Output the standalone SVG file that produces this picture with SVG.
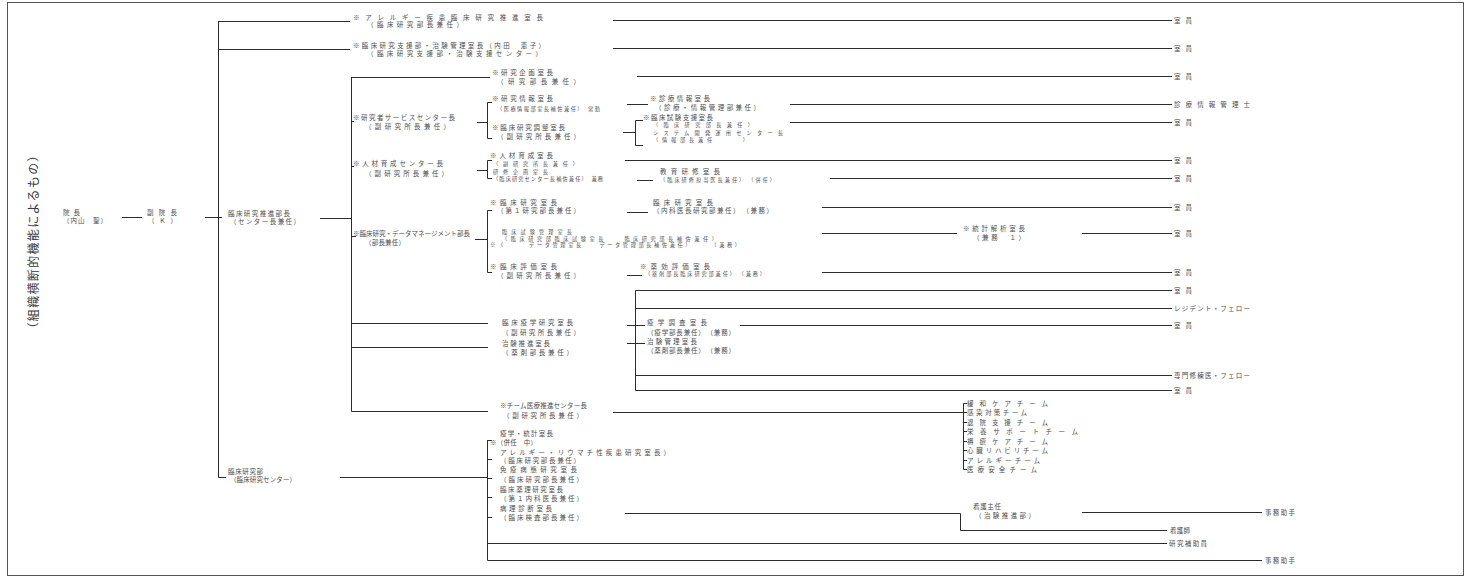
<svg xmlns="http://www.w3.org/2000/svg" width="1470" height="578" viewBox="0 0 1470 578">
<style>
text{font-family:"Noto Sans CJK JP","Noto Sans",sans-serif;font-size:6.5px;fill:#4d4d4d}
.s{font-size:5.2px}
.ttl{font-size:12px;fill:#3a3a3a}
.c path{fill:none;stroke:#2b2b2b;stroke-width:1}
.frame{fill:none;stroke:#555;stroke-width:1}
</style>
<rect class="frame" x="7.5" y="2.5" width="1456" height="573"/>
<text class="ttl" transform="translate(38,242) rotate(-90)" text-anchor="middle" textLength="185" lengthAdjust="spacing">（組織横断的機能によるもの）</text>

<g class="c" id="connectors">
<path d="M122 217.5H142M205 217.5H222M218.5 21V477.5H226M218 21.5H350M218 49.5H350M320 218.5H351M351.5 77V411.5H488M340 477.5H487"/>
<path d="M613 20.5H1172M613 48.5H1172M351 77.5H490M637 76.5H1172"/>
<path d="M351 121.5H354M477 122.5H487M492 102.5H487.5V138.5H492"/>
<path d="M627 104.5H648M790 104.5H1172M623 132.5H635M643 120.5H635.5V145.5H643M790 122.5H1172"/>
<path d="M351 166.5H354M477 170.5H487M492 160.5H487.5V178.5H492M625 160.5H1172M637 180.5H653M830 178.5H1172"/>
<path d="M492 210.5H487.5V272.5H492M351 236.5H356M475 239.5H487M627 212.5H648M822 207.5H1172M822 233.5H957M1082 233.5H1172M627 275.5H642M822 272.5H1172"/>
<path d="M351 323.5H488M351 347.5H488M1172 290.5H635.5V390.5H1172M635 308.5H1172M635 375.5H1172M627 325.5H645M627 343.5H645M740 325.5H1172"/>
<path d="M613 412.5H963M967 403.5H963.5V469.5H967M963 412.5H967M963 422.5H967M963 431.5H967M963 441.5H967M963 450.5H967M963 460.5H967"/>
<path d="M487.5 440V560.5H1262M487 440.5H492M487 459.5H492M487 478.5H492M487 497.5H492M487 517.5H492M625 513.5H960.5V530.5H1167M1082 512.5H1262M487 543.5H1167"/>
</g>

<g id="n-in"><text x="63" y="215" textLength="17">院長</text><text x="63" y="222.5" textLength="44">（内山　聖）</text></g>
<g id="n-fuku"><text x="147" y="215" textLength="30">副院長</text><text x="148" y="222.5" textLength="29">（Ｋ）</text></g>
<g id="n-main"><text x="228" y="215.5" textLength="62">臨床研究推進部長</text><text x="230" y="223.5" textLength="70">（センター長兼任）</text></g>
<g id="n-t1"><text x="353" y="19.5" textLength="190">※アレルギー疾患臨床研究推進室長</text><text x="367" y="27" textLength="96">（臨床研究部長兼任）</text></g>
<g id="n-t2"><text x="353" y="47.5" textLength="192">※臨床研究支援部・治験管理室長（内田　恵子）</text><text x="367" y="55.5" textLength="175">（臨床研究支援部・治験支援センター）</text></g>
<g id="n-r1"><text x="492" y="74.5" textLength="61">※研究企画室長</text><text x="497" y="83.5" textLength="83">（研究部長兼任）</text></g>
<g id="n-sc"><text x="353" y="119.5" textLength="102">※研究者サービスセンター長</text><text x="365" y="128.5" textLength="85">（副研究所長兼任）</text></g>
<g id="n-s1"><text x="492" y="100.5" textLength="61">※研究情報室長</text><text class="s" x="497" y="110.5" textLength="103">（医療情報部室長補佐兼任）　常勤</text></g>
<g id="n-s2"><text x="492" y="129.5" textLength="73">※臨床研究調整室長</text><text x="497" y="138.5" textLength="83">（副研究所長兼任）</text></g>
<g id="n-s1r"><text x="650" y="100.5" textLength="60">※診療情報室長</text><text x="655" y="110" textLength="105">（診療・情報管理部兼任）</text></g>
<g id="n-s2r"><text x="643" y="120" textLength="70">※臨床試験支援室長</text><text class="s" x="653" y="127" textLength="100">（臨床研究部長兼任）</text><text class="s" x="653" y="134.5" textLength="130">システム開発運用センター長</text><text class="s" x="653" y="142" textLength="95">（情報部長兼任　　　）</text></g>
<g id="n-hr"><text x="353" y="165.5" textLength="90">※人材育成センター長</text><text x="365" y="175.5" textLength="83">（副研究所長兼任）</text></g>
<g id="n-hra"><text x="490" y="157.5" textLength="63">※人材育成室長</text><text class="s" x="493" y="166" textLength="85">（副研究所長兼任）</text></g>
<g id="n-hrb"><text class="s" x="493" y="173.5" textLength="55">研修企画室長</text><text class="s" x="493" y="180.5" textLength="110">（臨床研究センター長補佐兼任）　兼務</text></g>
<g id="n-hrr"><text x="660" y="174" textLength="60">教育研修室長</text><text class="s" x="660" y="181.5" textLength="115">（臨床研修担当医長兼任）　（併任）</text></g>
<g id="n-ra"><text x="490" y="204.5" textLength="67">※臨床研究室長</text><text x="497" y="212.5" textLength="83">（第１研究部長兼任）</text></g>
<g id="n-rar"><text x="653" y="204.5" textLength="60">臨床研究室長</text><text x="653" y="212.5" textLength="120">（内科医長研究部兼任）　（兼務）</text></g>
<g id="n-mid"><text x="353" y="235.5" textLength="117">※臨床研究・データマネージメント部長</text><text x="365" y="244.5" textLength="40">（部長兼任）</text></g>
<g id="n-cx"><text class="s" x="502" y="234" textLength="70">臨床試験管理室長</text><text class="s" x="502" y="240.5" textLength="215">（臨床研究部臨床試験室長　　臨床研究部長補佐兼任）</text><text class="s" x="490" y="247" textLength="250">※（　　　データ管理室長　　データ管理部長補佐兼任）　　　（兼務）</text></g>
<g id="n-midr"><text x="963" y="230.5" textLength="62">※統計解析室長</text><text x="973" y="239.5" textLength="52">（兼務　１）</text></g>
<g id="n-rc"><text x="490" y="268.5" textLength="67">※臨床評価室長</text><text x="497" y="277.5" textLength="83">（副研究所長兼任）</text></g>
<g id="n-rcr"><text x="640" y="268.5" textLength="70">※薬効評価室長</text><text class="s" x="645" y="275.5" textLength="120">（薬剤部長臨床研究部兼任）　（兼務）</text></g>
<g id="n-l1"><text x="502" y="324.5" textLength="71">臨床疫学研究室長</text><text x="502" y="335" textLength="78">（副研究所長兼任）</text></g>
<g id="n-l2"><text x="502" y="345.5" textLength="48">治験推進室長</text><text x="502" y="354.5" textLength="71">（薬剤部長兼任）</text></g>
<g id="n-lr1"><text x="647" y="324.5" textLength="60">疫学調査室長</text><text x="647" y="334.5" textLength="88">（疫学部長兼任）　（兼務）</text></g>
<g id="n-lr2"><text x="647" y="343.5" textLength="50">治験管理室長</text><text x="647" y="352.5" textLength="88">（薬剤部長兼任）　（兼務）</text></g>
<g id="n-bv"><text x="500" y="407.5" textLength="87">※チーム医療推進センター長</text><text x="503" y="417.5" textLength="80">（副研究所長兼任）</text></g>
<g id="n-bn"><text x="228" y="474" textLength="35">臨床研究部</text><text x="230" y="482" textLength="66">（臨床研究センター）</text></g>
<g id="n-b1"><text x="500" y="435.5" textLength="53">疫学・統計室長</text><text x="490" y="444.5" textLength="47">※（併任　中）</text></g>
<g id="n-b2"><text x="500" y="454.5" textLength="170">アレルギー・リウマチ性疾患研究室長）</text><text x="500" y="462.5" textLength="80">（臨床研究部長兼任）</text></g>
<g id="n-b3"><text x="500" y="471.5" textLength="77">免疫病態研究室長</text><text x="500" y="481.5" textLength="83">（臨床研究部長兼任）</text></g>
<g id="n-b4"><text x="500" y="491.5" textLength="63">臨床薬理研究室長</text><text x="500" y="500.5" textLength="83">（第１内科医長兼任）</text></g>
<g id="n-b5"><text x="500" y="510.5" textLength="52">病理診断室長</text><text x="500" y="519.5" textLength="83">（臨床検査部長兼任）</text></g>
<g id="n-teams">
<text x="967" y="405.5" textLength="81">緩和ケアチーム</text>
<text x="967" y="415" textLength="60">感染対策チーム</text>
<text x="967" y="424.5" textLength="81">退院支援チーム</text>
<text x="967" y="434" textLength="111">栄養サポートチーム</text>
<text x="967" y="443.5" textLength="81">褥瘡ケアチーム</text>
<text x="967" y="453" textLength="81">心臓リハビリチーム</text>
<text x="967" y="462.5" textLength="73">アレルギーチーム</text>
<text x="967" y="472" textLength="70">医療安全チーム</text>
</g>
<g id="n-shunin"><text x="973" y="508.5" textLength="28">看護主任</text><text x="975" y="517.5" textLength="60">（治験推進部）</text></g>
<g id="ends">
<text x="1174" y="22.5" textLength="18">室員</text>
<text x="1174" y="50.5" textLength="18">室員</text>
<text x="1174" y="78.5" textLength="18">室員</text>
<text x="1174" y="106.5" textLength="76">診療情報管理士</text>
<text x="1174" y="124.5" textLength="18">室員</text>
<text x="1174" y="162.5" textLength="18">室員</text>
<text x="1174" y="180.5" textLength="18">室員</text>
<text x="1174" y="209.5" textLength="18">室員</text>
<text x="1174" y="235.5" textLength="18">室員</text>
<text x="1174" y="274.5" textLength="18">室員</text>
<text x="1174" y="292.5" textLength="18">室員</text>
<text x="1174" y="310.5" textLength="76">レジデント・フェロー</text>
<text x="1174" y="327.5" textLength="18">室員</text>
<text x="1174" y="377.5" textLength="76">専門修練医・フェロー</text>
<text x="1174" y="392.5" textLength="18">室員</text>
<text x="1170" y="532.5" textLength="20">看護師</text>
<text x="1169" y="545.5" textLength="38">研究補助員</text>
<text x="1265" y="514.5" textLength="30">事務助手</text>
<text x="1265" y="562.5" textLength="30">事務助手</text>
</g>
</svg>
